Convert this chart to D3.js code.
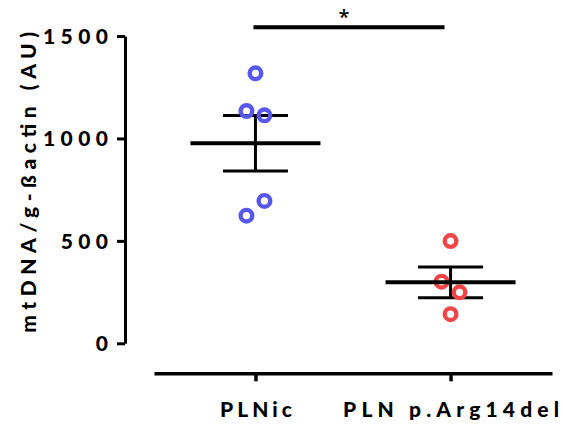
<!DOCTYPE html>
<html>
<head>
<meta charset="utf-8">
<script src="https://cdn.jsdelivr.net/npm/d3@7"></script>
<style>
  html, body { margin: 0; padding: 0; background: #fff; }
  svg { display: block; }
  text { font-family: Lato, "Open Sans", sans-serif; font-weight: 900; fill: #000; }
</style>
</head>
<body>
<svg id="chart" width="562" height="426"></svg>
<script>
// Groups and per-animal measurements (mtDNA / β-actin, arbitrary units)
const categories = ["PLNic", "PLN p.Arg14del"];
const plnicValues = [1318, 1134, 1113, 623, 695];
const arg14delValues = [499, 301, 249, 142];
const groupColors = ["#5757ee", "#ee4646"];
const yTicks = [0, 500, 1000, 1500];
const yLabel = "mtDNA/g-ßactin (AU)";
const significance = "*";

const groups = [plnicValues, arg14delValues];

const svg = d3.select("#chart");

const y = d3.scaleLinear().domain([0, 1500]).range([343.3, 36]);
const x = d3.scalePoint().domain(categories).range([154, 552]).padding(0.52);

// Y axis
const yAxis = svg.append("g")
  .attr("transform", "translate(125,0)")
  .call(d3.axisLeft(y).tickValues(yTicks).tickFormat(d3.format("d"))
    .tickSize(8).tickSizeOuter(0).tickPadding(9));
yAxis.select(".domain").attr("stroke", "#000").attr("stroke-width", 3);
yAxis.selectAll(".tick line").attr("stroke", "#000").attr("stroke-width", 3);
yAxis.selectAll(".tick text")
  .style("font-size", "21px")
  .attr("dy", "0.36em")
  .attr("textLength", d => String(d).length * 17.7 - 5.8)
  .attr("lengthAdjust", "spacing");

// X axis
const xAxis = svg.append("g")
  .attr("transform", "translate(0,373.3)")
  .call(d3.axisBottom(x).tickSize(8).tickSizeOuter(0).tickPadding(20));
xAxis.select(".domain").attr("stroke", "#000").attr("stroke-width", 3.5);
xAxis.selectAll(".tick line").attr("stroke", "#000").attr("stroke-width", 3.5);
const labelWidths = { "PLNic": 72, "PLN p.Arg14del": 216 };
xAxis.selectAll(".tick text")
  .style("font-size", "21px")
  .attr("dy", "0.74em")
  .attr("textLength", d => labelWidths[d])
  .attr("lengthAdjust", "spacing");

// Y axis title
svg.append("text")
  .attr("transform", `translate(36,${(31.7 + 333) / 2}) rotate(-90)`)
  .attr("text-anchor", "middle")
  .style("font-size", "21px")
  .attr("textLength", 301)
  .attr("lengthAdjust", "spacing")
  .text(yLabel);

// Horizontal dodge so that overlapping points sit side by side
function dodge(values, step, minGap) {
  const order = d3.range(values.length).sort((a, b) => values[b] - values[a]);
  const clusters = [];
  order.forEach(i => {
    const last = clusters[clusters.length - 1];
    if (last && Math.abs(y(values[last[last.length - 1]]) - y(values[i])) < minGap) last.push(i);
    else clusters.push([i]);
  });
  const offsets = new Array(values.length).fill(0);
  clusters.forEach(c => {
    c.sort((a, b) => a - b);
    c.forEach((i, k) => { offsets[i] = (k - (c.length - 1) / 2) * step; });
  });
  return offsets;
}

groups.forEach((vals, gi) => {
  const cx = x(categories[gi]);
  const mean = d3.mean(vals);
  const sem = d3.deviation(vals) / Math.sqrt(vals.length);
  const g = svg.append("g");

  // SEM whisker
  g.append("line")
    .attr("x1", cx).attr("x2", cx)
    .attr("y1", y(mean + sem)).attr("y2", y(mean - sem))
    .attr("stroke", "#000").attr("stroke-width", 3);
  [mean + sem, mean - sem].forEach(v => {
    g.append("line")
      .attr("x1", cx - 32.5).attr("x2", cx + 32.5)
      .attr("y1", y(v)).attr("y2", y(v))
      .attr("stroke", "#000").attr("stroke-width", 3);
  });

  // Points
  const offs = dodge(vals, 18, 16);
  g.selectAll("circle")
    .data(vals)
    .join("circle")
    .attr("cx", (d, i) => cx + offs[i])
    .attr("cy", d => y(d))
    .attr("r", 5.8)
    .attr("fill", "none")
    .attr("stroke", groupColors[gi])
    .attr("stroke-width", 4.4);

  // Mean line
  g.append("line")
    .attr("x1", cx - 65).attr("x2", cx + 65)
    .attr("y1", y(mean)).attr("y2", y(mean))
    .attr("stroke", "#000").attr("stroke-width", 4);
});

// Significance bracket
const x0 = x(categories[0]), x1 = x(categories[1]);
svg.append("line")
  .attr("x1", x0 - 2).attr("x2", x1 - 6)
  .attr("y1", 27.3).attr("y2", 27.3)
  .attr("stroke", "#000").attr("stroke-width", 4);
svg.append("text")
  .attr("x", (x0 + x1) / 2 - 9)
  .attr("y", 24)
  .attr("text-anchor", "middle")
  .style("font-family", "'Open Sans', sans-serif")
  .style("font-size", "20px")
  .style("font-weight", 600)
  .text(significance);
</script>
</body>
</html>
